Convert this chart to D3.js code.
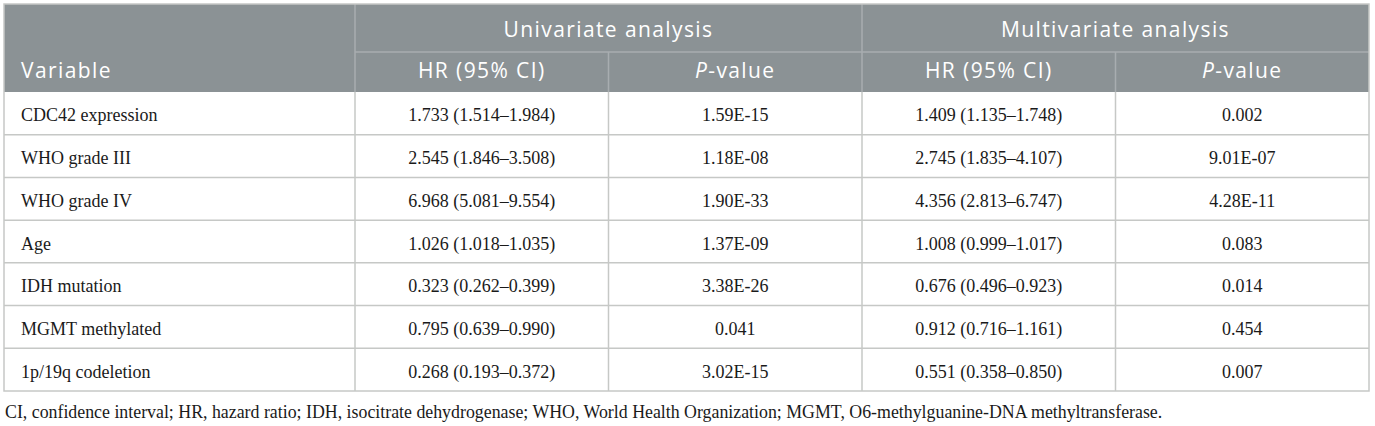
<!DOCTYPE html>
<html>
<head>
<meta charset="utf-8">
<script src="https://cdn.jsdelivr.net/npm/d3@7"></script>
<style>
  html, body { margin: 0; padding: 0; background: #fff; }
  svg { display: block; }
</style>
</head>
<body>
<div id="table"></div>
<script>
const variables = ["CDC42 expression", "WHO grade III", "WHO grade IV", "Age", "IDH mutation", "MGMT methylated", "1p/19q codeletion"];
const uniHR = ["1.733 (1.514–1.984)", "2.545 (1.846–3.508)", "6.968 (5.081–9.554)", "1.026 (1.018–1.035)", "0.323 (0.262–0.399)", "0.795 (0.639–0.990)", "0.268 (0.193–0.372)"];
const uniP = ["1.59E-15", "1.18E-08", "1.90E-33", "1.37E-09", "3.38E-26", "0.041", "3.02E-15"];
const multiHR = ["1.409 (1.135–1.748)", "2.745 (1.835–4.107)", "4.356 (2.813–6.747)", "1.008 (0.999–1.017)", "0.676 (0.496–0.923)", "0.912 (0.716–1.161)", "0.551 (0.358–0.850)"];
const multiP = ["0.002", "9.01E-07", "4.28E-11", "0.083", "0.014", "0.454", "0.007"];
const groups = ["Univariate analysis", "Multivariate analysis"];
const subHeads = ["HR (95% CI)", "P-value", "HR (95% CI)", "P-value"];
const footnote = "CI, confidence interval; HR, hazard ratio; IDH, isocitrate dehydrogenase; WHO, World Health Organization; MGMT, O6-methylguanine-DNA methyltransferase.";

(function() {
  const W = 1375, H = 426;
  const left = 4, right = 1369, varRight = 355;
  const top = 4, head1 = 52, head2 = 92, bottom = 391;

  const headBg = "#8b9295";
  const headLine = "#a8adb0";
  const gridCol = "#c6c8c6";
  const sans = "'Open Sans', 'Noto Sans', sans-serif";
  const serif = "'Liberation Serif', 'Times New Roman', serif";

  const svg = d3.select("#table").append("svg")
    .attr("width", W)
    .attr("height", H);

  const colKeys = [0, 1, 2, 3];
  const x = d3.scaleBand().domain(colKeys).range([varRight, right]);
  const g = d3.scaleBand().domain(groups).range([varRight, right]);
  const y = d3.scaleBand().domain(variables).range([head2, bottom]);

  // header background
  svg.append("rect")
    .attr("x", left).attr("y", top)
    .attr("width", right - left).attr("height", head2 - top)
    .attr("fill", headBg);

  // header lines
  const hl = svg.append("g").attr("stroke", headLine).attr("stroke-width", 1.5);
  hl.append("line").attr("x1", varRight).attr("x2", right).attr("y1", head1).attr("y2", head1);
  hl.selectAll(".gv").data(groups).join("line")
    .attr("x1", d => g(d)).attr("x2", d => g(d))
    .attr("y1", top).attr("y2", head2);
  hl.selectAll(".sv").data([1, 3]).join("line")
    .attr("x1", d => x(d)).attr("x2", d => x(d))
    .attr("y1", head1).attr("y2", head2);

  // header text
  const head = svg.append("g")
    .attr("font-family", sans).attr("font-size", 21)
    .attr("letter-spacing", 1.4)
    .attr("fill", "#fff");

  head.append("text")
    .attr("x", left + 17).attr("y", head2 - 14)
    .text("Variable");

  head.selectAll(".grp").data(groups).join("text")
    .attr("x", d => g(d) + g.bandwidth() / 2)
    .attr("y", head1 - 15)
    .attr("text-anchor", "middle")
    .text(d => d);

  const sh = head.selectAll(".sub").data(subHeads).join("text")
    .attr("x", (d, i) => x(i) + x.bandwidth() / 2)
    .attr("y", head2 - 14)
    .attr("text-anchor", "middle");
  sh.each(function(d) {
    const t = d3.select(this);
    if (d.startsWith("P-")) {
      t.append("tspan").attr("font-style", "italic").text("P");
      t.append("tspan").text(d.slice(1));
    } else {
      t.text(d);
    }
  });

  // body grid
  const grid = svg.append("g").attr("stroke", gridCol).attr("stroke-width", 1.5).attr("fill", "none");
  grid.selectAll(".rl").data(variables.slice(1)).join("line")
    .attr("x1", left).attr("x2", right)
    .attr("y1", d => y(d)).attr("y2", d => y(d));
  grid.selectAll(".cl").data(colKeys).join("line")
    .attr("x1", d => x(d)).attr("x2", d => x(d))
    .attr("y1", head2).attr("y2", bottom);
  grid.append("rect")
    .attr("x", left).attr("y", top)
    .attr("width", right - left).attr("height", bottom - top);

  // body text
  const body = svg.append("g")
    .attr("font-family", serif).attr("font-size", 18)
    .attr("fill", "#1a1a1a");

  body.selectAll(".var").data(variables).join("text")
    .attr("x", left + 17)
    .attr("y", d => y(d) + y.bandwidth() / 2 + 8)
    .text(d => d);

  const cols = [uniHR, uniP, multiHR, multiP];
  cols.forEach((arr, ci) => {
    body.selectAll(".c" + ci).data(arr).join("text")
      .attr("x", x(ci) + x.bandwidth() / 2)
      .attr("y", (d, i) => y(variables[i]) + y.bandwidth() / 2 + 8)
      .attr("text-anchor", "middle")
      .text(d => d);
  });

  // footnote, sized so it ends where the reference line ends
  const fn = svg.append("text")
    .attr("x", left + 1)
    .attr("y", 418)
    .attr("font-family", serif).attr("font-size", 17)
    .attr("fill", "#1a1a1a")
    .text(footnote);
  const len = fn.node().getComputedTextLength();
  if (len > 0) fn.attr("font-size", 17 * 1158 / len);
})();
</script>
</body>
</html>
